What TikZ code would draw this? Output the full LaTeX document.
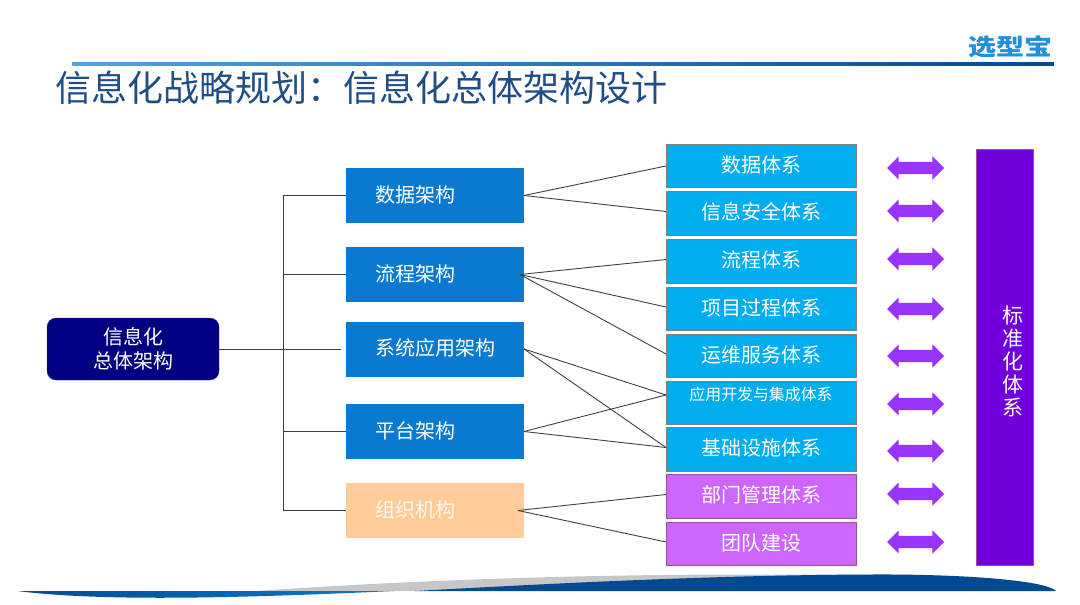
\documentclass[tikz,border=0pt]{standalone}
\usepackage{fontspec}
\usepackage{graphicx}
\setmainfont{Noto Sans CJK SC}
\usetikzlibrary{shapes.arrows}
\definecolor{titleblue}{HTML}{1F4E86}
\definecolor{logoblue}{HTML}{1E90DC}
\definecolor{rootblue}{HTML}{000080}
\definecolor{midblue}{HTML}{0A7AD1}
\definecolor{sysblue}{HTML}{00AEEF}
\definecolor{orgorange}{HTML}{FFCC99}
\definecolor{linegray}{HTML}{404040}
\definecolor{swoopblue}{HTML}{004A92}
\definecolor{violetbox}{HTML}{CC66FF}
\definecolor{barviolet}{HTML}{6F00DC}
\definecolor{arrowviolet}{HTML}{9933FF}
\definecolor{violetedge}{HTML}{9B4FA0}
\begin{document}
\begin{tikzpicture}[x=1pt,y=-1pt,outer sep=0pt]
    \tikzstyle{ROOT} = [rectangle, rounded corners=9pt, minimum width=172pt, minimum height=62pt, align=center, draw=rootblue!80!white, fill=rootblue, text=white, font=\fontsize{20}{24}\selectfont]
    \tikzstyle{ARCH} = [rectangle, minimum height=55pt, text width=178pt, text depth=3.4pt, inner xsep=0pt, align=left, fill=midblue, text=white, font=\fontsize{20}{24}\selectfont, execute at begin node=\hspace*{29.5pt}]
    \tikzstyle{SYS} = [rectangle, minimum width=190pt, minimum height=43.5pt, text depth=4.4pt, inner sep=0pt, align=center, draw=gray, line width=1pt, fill=sysblue, text=white, font=\fontsize{20}{24}\selectfont]
    \tikzstyle{SYSV} = [SYS, draw=violetedge, fill=violetbox]
    \tikzstyle{LINK} = [draw=linegray, line width=0.9pt]
    \tikzstyle{BOTH} = [double arrow, minimum width=23pt, minimum height=57pt, inner xsep=0pt, inner ysep=6pt, double arrow head extend=5.5pt, fill=arrowviolet]
    \useasboundingbox (0,0) rectangle (1080,605);
    % header
    \node (logo) at (1010,46.5) [text=logoblue, inner sep=0pt, font=\bfseries\fontsize{28}{28}\selectfont] {\scalebox{1}[0.82]{选型宝}};
    \shade [left color=logoblue!80!white, right color=swoopblue] (72,62) rectangle (1054,65.5);
    \node (title) at (55.5,88) [anchor=west, text=titleblue, inner sep=0pt, font=\fontsize{36}{40}\selectfont] {信息化战略规划：信息化总体架构设计};
    % left part
    \node (root) at (133,349) [ROOT] {信息化\\总体架构};
    \node (data) at (435,195.5) [ARCH] {数据架构};
    \node (flow) at (435,274.5) [ARCH] {流程架构};
    \node (appl) at (435,349) [ARCH] {系统应用架构};
    \node (plat) at (435,431.5) [ARCH] {平台架构};
    \node (orga) at (435,510.5) [ARCH, fill=orgorange, text=white!85!orgorange] {组织机构};
    % system boxes
    \foreach \name/\y/\txt in {sdata/166/数据体系,ssafe/213.5/信息安全体系,sflow/261.5/流程体系,sproj/309/项目过程体系,sserv/356/运维服务体系,sbase/449.5/基础设施体系}
      {\node (\name) at (761,\y) [SYS] {\txt};}
    \node (sdev) at (761,403) [SYS, text depth=3pt, font=\fontsize{15.9}{16}\selectfont] {应用开发与集成体系\\\mbox{}};
    \node (sdept) at (761,496.5) [SYSV] {部门管理体系};
    \node (steam) at (761,544) [SYSV] {团队建设};
    % right part
    \foreach \y [count=\i] in {168,211,259,309,356,404,451,494,542}
      {\node (both\i) at (915.5,\y) [BOTH] {};}
    \node (bar) at (1004.5,357) [rectangle, minimum width=57pt, minimum height=416pt, draw=violetedge, line width=1pt, fill=barviolet] {};
    \node (barlabel) at (1013,361) [align=center, text=white, inner sep=0pt, font=\fontsize{21}{23}\selectfont] {标\\准\\化\\体\\系};
    % tree
    \coordinate (trunk) at (283,349);
    \draw [LINK] (trunk |- data.west) -- (trunk |- orga.west);
    \draw [LINK, shorten >=5pt] (root.east) -- (appl.west);
    \foreach \a in {data,flow,plat,orga}
      {\draw [LINK] (trunk |- \a.west) -- (\a.west);}
    % links
    \draw [LINK] (data.east) -- (sdata.west);
    \foreach \a/\b in {data/ssafe,appl/sbase,plat/sbase}
      {\draw [LINK] (\a.east) -- ([yshift=2pt]\b.west);}
    \foreach \b in {sflow,sproj,sserv}
      {\draw [LINK] ([xshift=-4pt]flow.east) -- ([yshift=2pt]\b.west);}
    \foreach \b in {sdept,steam}
      {\draw [LINK] ([xshift=-6pt]orga.east) -- ([yshift=2pt]\b.west);}
    \draw [LINK] (appl.east) -- ([yshift=8pt]sdev.west);
    \draw [LINK] (plat.east) -- ([yshift=8pt]sdev.west);
    % bottom
    \fill [black!22] (256,591) .. controls (400,581) and (560,575) .. (730,574.5) -- (872,574.5) -- (415,591) -- cycle;
    \fill [swoopblue] (1056,591) .. controls (1045,580) and (960,574) .. (872,574.5) .. controls (720,575) and (560,583) .. (415,591) -- cycle;
    \shade [left color=swoopblue, right color=midblue] (17,591) .. controls (90,600) and (200,600) .. (394,591) -- cycle;
\end{tikzpicture}
\end{document}
